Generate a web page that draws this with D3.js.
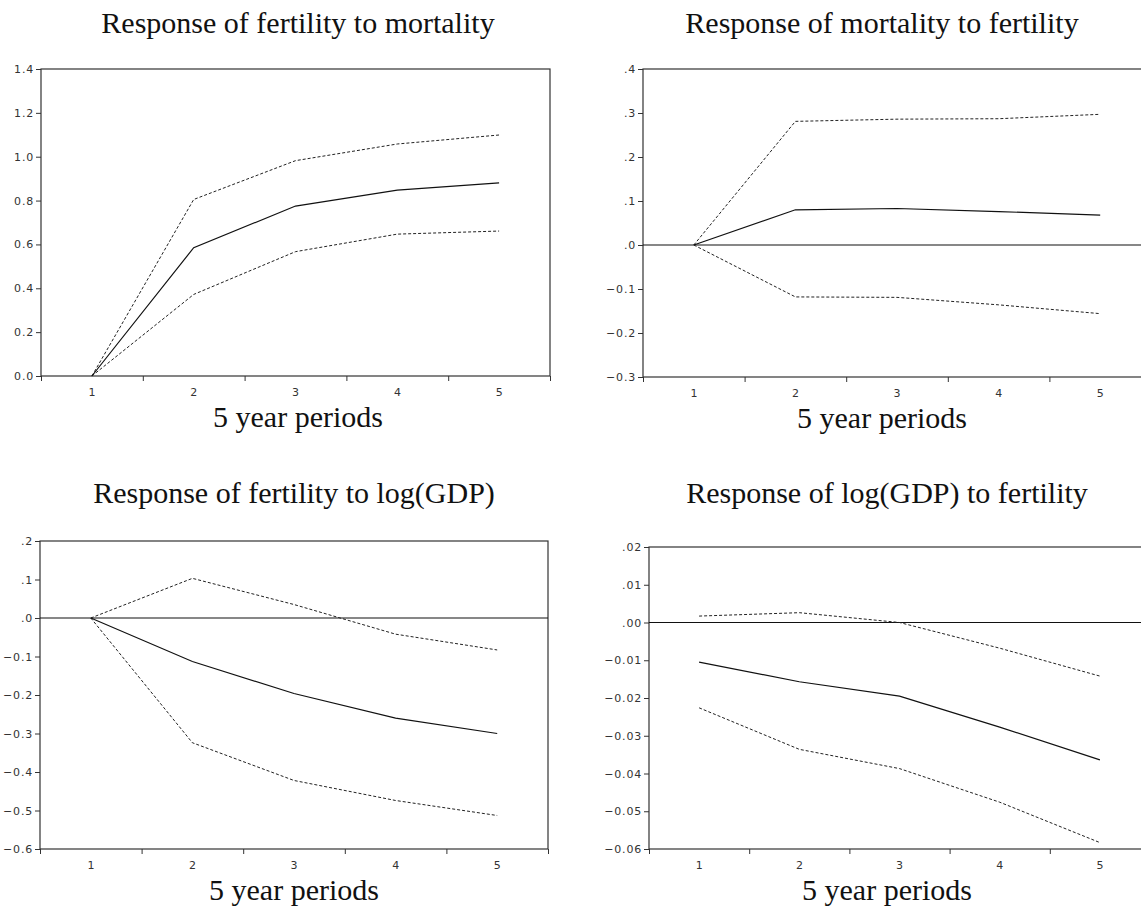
<!DOCTYPE html>
<html>
<head>
<meta charset="utf-8">
<script src="https://cdn.jsdelivr.net/npm/d3@7"></script>
<style>
  body { margin: 0; background: #fff; }
  .title, .xlabel { font-family: "Liberation Serif", "DejaVu Serif", serif; font-size: 30px; fill: #111; }
  .tick text { font-family: "DejaVu Sans", Verdana, sans-serif; font-size: 11px; letter-spacing: 0.8px; fill: #333; }
  .domain { display: none; }
  .tick line { stroke: #333; }
</style>
</head>
<body>
<div id="chart"></div>
<script>
// impulse responses, 5 year periods
var periods = [1, 2, 3, 4, 5];

// fertility to mortality
var fertMort = [0, 0.585, 0.775, 0.848, 0.881];
var fertMortHi = [0, 0.805, 0.982, 1.058, 1.099];
var fertMortLo = [0, 0.372, 0.567, 0.647, 0.661];

// mortality to fertility
var mortFert = [0, 0.080, 0.083, 0.076, 0.068];
var mortFertHi = [0, 0.281, 0.286, 0.287, 0.297];
var mortFertLo = [0, -0.118, -0.119, -0.136, -0.156];

// fertility to log(GDP)
var fertGdp = [0, -0.113, -0.196, -0.26, -0.30];
var fertGdpHi = [0, 0.103, 0.035, -0.042, -0.083];
var fertGdpLo = [0, -0.324, -0.422, -0.474, -0.513];

// log(GDP) to fertility
var gdpFert = [-0.0105, -0.0157, -0.0195, -0.0277, -0.0364];
var gdpFertHi = [0.0017, 0.0026, 0.0000, -0.0068, -0.0142];
var gdpFertLo = [-0.0226, -0.0336, -0.0387, -0.0476, -0.0583];

var yTicks1 = [0, 0.2, 0.4, 0.6, 0.8, 1.0, 1.2, 1.4];
var yTicks2 = [-0.3, -0.2, -0.1, 0, 0.1, 0.2, 0.3, 0.4];
var yTicks3 = [-0.6, -0.5, -0.4, -0.3, -0.2, -0.1, 0, 0.1, 0.2];
var yTicks4 = [-0.06, -0.05, -0.04, -0.03, -0.02, -0.01, 0, 0.01, 0.02];

var titles = [
  "Response of fertility to mortality",
  "Response of mortality to fertility",
  "Response of fertility to log(GDP)",
  "Response of log(GDP) to fertility"
];
var xTitle = "5 year periods";

var svgWidth = 1141;
var svgHeight = 907;

var svg = d3.select("#chart")
  .append("svg")
  .attr("width", svgWidth)
  .attr("height", svgHeight);

// strip leading zero like eviews does (.2, -.1)
function noZero(digits) {
  var f = d3.format("." + digits + "f");
  return function(d) { return f(d).replace(/^(-?)0\./, "$1."); };
}

var panels = [
  {left: 41, top: 69, w: 509, h: 307, tcx: 298, tby: 33,
   resp: fertMort, hi: fertMortHi, lo: fertMortLo, ticks: yTicks1, fmt: d3.format(".1f"), zero: false},
  {left: 643, top: 69, w: 508, h: 308, tcx: 882, tby: 33,
   resp: mortFert, hi: mortFertHi, lo: mortFertLo, ticks: yTicks2, fmt: noZero(1), zero: true},
  {left: 40, top: 541, w: 508, h: 308, tcx: 294, tby: 503,
   resp: fertGdp, hi: fertGdpHi, lo: fertGdpLo, ticks: yTicks3, fmt: noZero(1), zero: true},
  {left: 649, top: 547, w: 501, h: 302, tcx: 887, tby: 503,
   resp: gdpFert, hi: gdpFertHi, lo: gdpFertLo, ticks: yTicks4, fmt: noZero(2), zero: true}
];

panels.forEach(function(p, i) {
  var g = svg.append("g")
    .attr("transform", `translate(${p.left}, ${p.top})`);

  var x = d3.scaleLinear()
    .domain([0.5, 5.5])
    .range([0, p.w]);

  var y = d3.scaleLinear()
    .domain(d3.extent(p.ticks))
    .range([p.h, 0]);

  // tick marks at period boundaries
  g.append("g")
    .attr("transform", `translate(0, ${p.h})`)
    .call(d3.axisBottom(x)
      .tickValues([0.5, 1.5, 2.5, 3.5, 4.5, 5.5])
      .tickFormat("")
      .tickSize(5));

  // period labels
  g.append("g")
    .attr("transform", `translate(0, ${p.h})`)
    .call(d3.axisBottom(x)
      .tickValues(periods)
      .tickFormat(d3.format("d"))
      .tickSize(0)
      .tickPadding(12));

  g.append("g")
    .call(d3.axisLeft(y)
      .tickValues(p.ticks)
      .tickFormat(p.fmt)
      .tickSize(5)
      .tickPadding(2));

  g.append("rect")
    .attr("width", p.w)
    .attr("height", p.h)
    .attr("fill", "none")
    .attr("stroke", "#333")
    .attr("stroke-width", 1.2);

  if (p.zero) {
    g.append("line")
      .attr("x1", 0)
      .attr("x2", p.w)
      .attr("y1", y(0))
      .attr("y2", y(0))
      .attr("stroke", "#111")
      .attr("stroke-width", 1.2);
  }

  var line = d3.line()
    .x(function(d, j) { return x(periods[j]); })
    .y(function(d) { return y(d); });

  g.append("path")
    .datum(p.hi)
    .attr("d", line)
    .attr("fill", "none")
    .attr("stroke", "#222")
    .attr("stroke-width", 1)
    .attr("stroke-dasharray", "3,2");

  g.append("path")
    .datum(p.lo)
    .attr("d", line)
    .attr("fill", "none")
    .attr("stroke", "#222")
    .attr("stroke-width", 1)
    .attr("stroke-dasharray", "3,2");

  g.append("path")
    .datum(p.resp)
    .attr("d", line)
    .attr("fill", "none")
    .attr("stroke", "#111")
    .attr("stroke-width", 1.2);

  svg.append("text")
    .attr("class", "title")
    .attr("x", p.tcx)
    .attr("y", p.tby)
    .attr("text-anchor", "middle")
    .text(titles[i]);

  svg.append("text")
    .attr("class", "xlabel")
    .attr("x", p.tcx)
    .attr("y", p.top + p.h + 51)
    .attr("text-anchor", "middle")
    .text(xTitle);
});
</script>
</body>
</html>
